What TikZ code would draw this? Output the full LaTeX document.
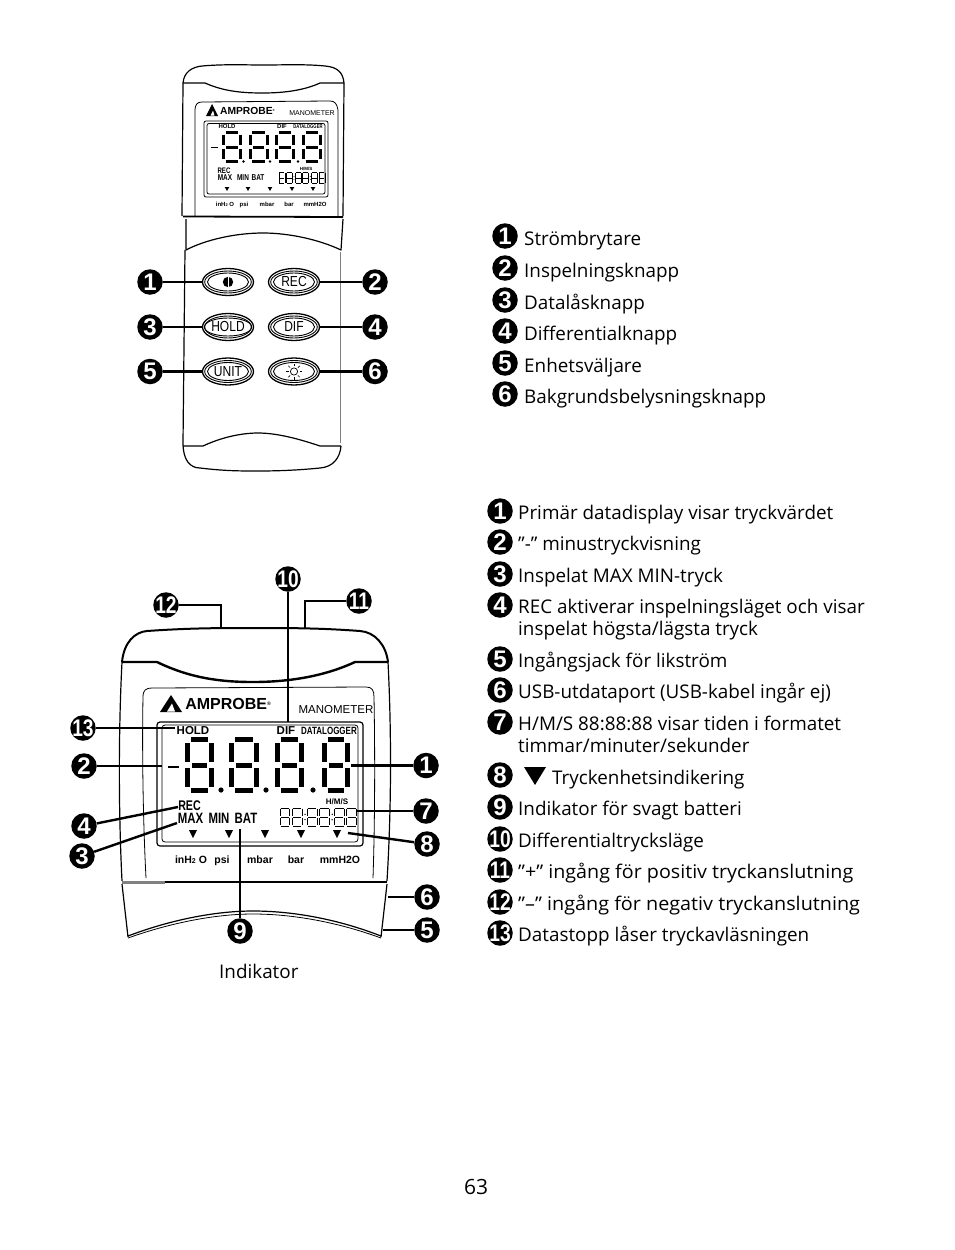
\documentclass[tikz,border=0pt]{standalone}
\usepackage{graphicx}
\usepackage{fontspec}
\setmainfont{Open Sans}
\newfontfamily\devfont{Liberation Sans}
\newfontfamily\numfont{Liberation Sans Bold}
\usetikzlibrary{shapes.geometric}
\newcommand{\segd}[5]{%
  \draw[line width=#5,line cap=butt,line join=round]
    (#1+#5*.7,#2) -- (#1+#3-#5*.7,#2)
    (#1+#5*.7,#2+#4) -- (#1+#3-#5*.7,#2+#4)
    (#1+#5*.9,#2+#4/2) -- (#1+#3-#5*.9,#2+#4/2)
    (#1,#2+#5*.7) -- (#1,#2+#4/2-#5*.6)
    (#1+#3,#2+#5*.7) -- (#1+#3,#2+#4/2-#5*.6)
    (#1,#2+#4/2+#5*.6) -- (#1,#2+#4-#5*.7)
    (#1+#3,#2+#4/2+#5*.6) -- (#1+#3,#2+#4-#5*.7);}
\newcommand{\clockd}[5]{% x y scale height lw
  \foreach \dd in {0,12.2,27.2,39.4,54.4,66.6}{\segd{#1+#3*\dd}{#2}{#3*9.8}{#4}{#5}}
  \foreach \dd in {25,52.2}{\fill (#1+#3*\dd,#2+#4*.35) circle[radius=#5*.75] (#1+#3*\dd,#2+#4*.65) circle[radius=#5*.75];}}
\newcommand{\twod}[1]{\makebox[14pt][c]{\scalebox{.8}[1]{#1}}}
\newcommand{\btxt}[1]{\scalebox{.83}[1]{#1}}
\tikzset{
  x=1pt,y=-1pt,
  outline/.style={line width=1.2pt,line join=round},
  heavy/.style={line width=2pt,line join=round},
  thin outline/.style={line width=.8pt,line join=round},
  leader/.style={line width=2.4pt},
  num/.style={circle,fill=black,text=white,inner sep=0,minimum size=25.5pt,font=\numfont\fontsize{24}{24}\selectfont},
  numtwo/.style={num},
  legend/.style={anchor=base west,inner sep=0,font=\fontsize{18.85}{22}\selectfont},
  btn/.style={ellipse,draw,line width=1.3pt,inner sep=0,minimum width=51pt,minimum height=27pt},
  btnin/.style={ellipse,draw,line width=.9pt,inner sep=0,minimum width=41pt,minimum height=18pt,font=\devfont\fontsize{14.5}{14.5}\selectfont},
  dev/.style={inner sep=0,font=\devfont\bfseries\fontsize{#1}{#1}\selectfont},
  devn/.style={inner sep=0,xscale=.76,font=\devfont\bfseries\fontsize{#1}{#1}\selectfont},
  devb/.style={dev=#1,anchor=base},
  reg/.style={inner sep=0,font=\devfont\fontsize{#1}{#1}\selectfont},
}
\begin{document}
\begin{tikzpicture}
\useasboundingbox (0,0) rectangle (954,1250);
\fill[white] (0,0) rectangle (954,1250);
%% ---------- upper device
\draw[outline] (183,83) .. controls (184,72) and (192,67) .. (202,66) .. controls (225,64) and (245,65) .. (263,65) .. controls (285,65) and (305,64) .. (325,66) .. controls (337,67) and (343,72) .. (344,83);
\draw[outline] (183,83) -- (205,83) .. controls (225,92) and (245,93) .. (263,93) .. controls (285,93) and (305,90) .. (320,83) -- (344,83);
\draw[outline] (183,83) -- (182,216);
\draw[outline] (344,83) -- (343,216);
\draw[line width=1.8pt] (183,216.5) -- (343,217);
\draw[outline] (186,219) -- (186,250) .. controls (205,240) and (235,233) .. (263,233) .. controls (290,233) and (320,240) .. (341,250) -- (343,219);
\draw[outline] (185,250) -- (183,443) .. controls (183,460) and (190,468) .. (200,468) .. controls (225,471) and (240,471) .. (258,471) .. controls (280,471) and (300,470) .. (320,468) .. controls (333,467) and (340,458) .. (341,446);
\draw[line width=.7pt,gray] (340,252) -- (340,443);
\draw[outline] (183,446) -- (203,446) .. controls (220,438) and (240,433) .. (258,433) .. controls (280,433) and (305,441) .. (320,446) -- (341,446);
\draw[thin outline] (195,216) -- (195,110) .. controls (195,105) and (197,102) .. (202,102) -- (330,101) .. controls (335,101) and (337,104) .. (338,110) -- (338,216);
\draw[thin outline,rounded corners=2pt] (204,121) rectangle (328,197);
\draw[thin outline,rounded corners=2pt] (207,123.5) rectangle (325,194);
\fill (206,116) -- (212,104) -- (218,116) -- cycle;
\fill[white] (210.5,115.7) -- (213,110.5) -- (214.5,115.7) -- cycle;
\node[dev=10.3] (logoA) at (247.5,110.8) {AMPROBE\raisebox{.5ex}{\fontsize{3}{3}\selectfont ®}};
\node[reg=7] (manA) at (312,113.5) {MANOMETER};
\node[dev=6] (holdA) at (227,126.5) {HOLD};
\node[dev=6] (difA) at (282,126.5) {DIF};
\node[devn=5.5] (dlA) at (308,126.5) {DATALOGGER};
\segd{223.5}{132.5}{17}{29}{3}
\segd{250}{132.5}{17}{29}{3}
\segd{276.5}{132.5}{17}{29}{3}
\segd{303.5}{132.5}{17}{29}{3}
\fill (243.5,161.5) circle[radius=1.4] (270,161.5) circle[radius=1.4] (298,161.5) circle[radius=1.4];
\draw[line width=.8pt] (211,147) -- (218,147);
\node[devn=8] (recA) at (224,170.5) {REC};
\node[devn=8.5] (maxA) at (225,178) {MAX};
\node[devn=8.5] (minA) at (243,178) {MIN};
\node[devn=8.5] (batA) at (258,178) {BAT};
\node[dev=4.5] (hmsA) at (306,169) {H/M/S};
\clockd{279}{172.5}{.6}{11}{.65}
\foreach \xx in {227,248,270,292,313}{\fill (\xx-2.3,187) -- (\xx+2.3,187) -- (\xx,191) -- cycle;}
\node[devb=6] (uA1) at (225,206) {inH\raisebox{0pt}{\fontsize{4}{4}\selectfont 2} O};
\node[devb=6] (uA2) at (244,206) {psi};
\node[devb=6] (uA3) at (267,206) {mbar};
\node[devb=6] (uA4) at (289,206) {bar};
\node[devb=6] (uA5) at (315,206) {mmH2O};
%% buttons
\node[btn] (b1) at (228,282) {}; \node[btnin] (b1i) at (228,282) {};
\node[btn] (b2) at (294,282) {}; \node[btnin] (b2i) at (294,282) {\btxt{REC}};
\node[btn] (b3) at (228,327) {}; \node[btnin] (b3i) at (228,327) {\btxt{HOLD}};
\node[btn] (b4) at (294,327) {}; \node[btnin] (b4i) at (294,327) {\btxt{DIF}};
\node[btn] (b5) at (228,371.5) {}; \node[btnin] (b5i) at (228,371.5) {\btxt{UNIT}};
\node[btn] (b6) at (294,371.5) {}; \node[btnin] (b6i) at (294,371.5) {};
\foreach \bb in {1,...,6}{\draw[line width=.9pt] (b\bb.center) ellipse[x radius=23.3,y radius=11];}
\fill (228,282) circle[radius=5.2];
\draw[white,line width=.6pt] (228,277) -- (228,287);
\draw[line width=.7pt] (294,371.5) circle[radius=3.6];
\foreach \aa in {0,45,...,315}{\draw[line width=.7pt] (294,371.5) ++(\aa:5.5) -- ++(\aa:2.5);}
\node[num] (u1) at (150,282) {1};
\node[num] (u2) at (375,282) {2};
\node[num] (u3) at (150,327) {3};
\node[num] (u4) at (375,327) {4};
\node[num] (u5) at (150,371.5) {5};
\node[num] (u6) at (375,371.5) {6};
\draw[leader] (u1) -- (b1);
\draw[leader] (u2) -- (b2);
\draw[leader] (u3) -- (b3);
\draw[leader] (u4) -- (b4);
\draw[leader] (u5) -- (b5);
\draw[leader] (u6) -- (b6);
%% ---------- upper legend
\node[num] (la1) at (505,236) {1}; \node[legend] (ta1) at (524,245) {Strömbrytare};
\node[num] (la2) at (505,268) {2}; \node[legend] (ta2) at (524,277) {Inspelningsknapp};
\node[num] (la3) at (505,300) {3}; \node[legend] (ta3) at (524,309) {Datalåsknapp};
\node[num] (la4) at (505,331) {4}; \node[legend] (ta4) at (524,340) {Differentialknapp};
\node[num] (la5) at (505,363) {5}; \node[legend] (ta5) at (524,372) {Enhetsväljare};
\node[num] (la6) at (505,394) {6}; \node[legend] (ta6) at (524,403) {Bakgrundsbelysningsknapp};
%% ---------- lower device
\draw[heavy] (122,662) .. controls (124,642) and (135,632) .. (147,631) .. controls (190,628) and (220,628) .. (253,628) .. controls (290,628) and (320,628) .. (360,631) .. controls (375,632) and (386,645) .. (388,662);
\draw[line width=2.4pt] (122,662) -- (157,662) .. controls (190,678) and (220,682) .. (253,682) .. controls (290,682) and (325,676) .. (355,662) -- (388,662);
\draw[outline] (122,662) .. controls (119,720) and (118,800) .. (122,881);
\draw[outline] (388,662) .. controls (391,720) and (392,800) .. (387,881);
\draw[line width=3pt,gray] (122,882) -- (165,882);
\draw[line width=2pt] (165,882) -- (387,882);
\draw[outline] (122,884) -- (128,937);
\draw[outline] (387,884) -- (381,937);
\draw[outline] (128,936) .. controls (170,920) and (215,911) .. (253,911) .. controls (295,911) and (340,920) .. (381,936);
\draw[thin outline] (128,938) .. controls (170,923) and (215,914) .. (253,914) .. controls (295,914) and (340,923) .. (381,938);
\draw[thin outline] (146,878) .. controls (143,820) and (142,750) .. (143,697) .. controls (143,690) and (146,688) .. (152,688) -- (366,687) .. controls (372,687) and (374,690) .. (374,697) .. controls (375,750) and (375,820) .. (373,878);
\draw[outline,rounded corners=3pt] (157,722) rectangle (363,846);
\draw[thin outline,rounded corners=3pt] (162,725) rectangle (358,842);
\fill (160,712) -- (171,695) -- (182,712) -- cycle;
\fill[white] (167,711.5) -- (172,703.5) -- (175,711.5) -- cycle;
\node[dev=16] (logoB) at (228,704) {AMPROBE\raisebox{.5ex}{\fontsize{5}{5}\selectfont ®}};
\node[reg=11.5] (manB) at (336,710) {MANOMETER};
\node[dev=11.5] (holdB) at (193,731) {HOLD};
\node[dev=11.5] (difB) at (286,731) {DIF};
\node[devn=10.5] (dlB) at (329,731) {DATALOGGER};
\segd{187.5}{739.5}{24}{51}{5}
\segd{231}{739.5}{25}{51}{5}
\segd{277.5}{739.5}{24}{51}{5}
\segd{324}{739.5}{23.5}{51}{5}
\fill (221,790) circle[radius=2.6] (266,790) circle[radius=2.6] (313,790) circle[radius=2.6];
\draw[line width=2.2pt] (168,767) -- (179,767);
\node[devn=14] (recB) at (189.5,805.5) {REC};
\node[devn=15] (maxB) at (190.5,818.8) {MAX};
\node[devn=15] (minB) at (219,818.8) {MIN};
\node[devn=15] (batB) at (246,818.8) {BAT};
\node[dev=8] (hmsB) at (337,802) {H/M/S};
\clockd{280}{808}{1}{18}{1}
\foreach \xx in {193,229,265,301,337}{\fill (\xx-4,830) -- (\xx+4,830) -- (\xx,838) -- cycle;}
\node[devb=10.5] (uB1) at (191,863) {inH\raisebox{0pt}{\fontsize{7}{7}\selectfont 2} O};
\node[devb=10.5] (uB2) at (222,863) {psi};
\node[devb=10.5] (uB3) at (260,863) {mbar};
\node[devb=10.5] (uB4) at (296,863) {bar};
\node[devb=10.5] (uB5) at (340,863) {mmH2O};
%% lower callouts
\node[num] (d1) at (426,765.5) {1};
\node[num] (d2) at (84,766) {2};
\node[num] (d3) at (82,856) {3};
\node[num] (d4) at (84,826) {4};
\node[num] (d5) at (427,930) {5};
\node[num] (d6) at (427,897) {6};
\node[num] (d7) at (426,811) {7};
\node[num] (d8) at (427,844) {8};
\node[num] (d9) at (240,931) {9};
\node[numtwo] (d10) at (288,579) {\twod{10}};
\node[numtwo] (d11) at (359,601) {\twod{11}};
\node[numtwo] (d12) at (166,605) {\twod{12}};
\node[numtwo] (d13) at (83,728) {\twod{13}};
\coordinate (e1) at (351,765.5);
\coordinate (e2) at (162,766);
\coordinate (e3) at (177,823);
\coordinate (e4) at (178,807);
\coordinate (e5) at (383,930);
\coordinate (e6) at (388,897);
\coordinate (e7) at (357,811);
\coordinate (e8) at (348,833);
\coordinate (e9) at (240,829);
\coordinate (e10) at (288,722);
\coordinate (e11) at (305,628);
\coordinate (e12) at (221,628);
\coordinate (e13) at (175,728);
\draw[leader] (d1) -- (e1);
\draw[leader] (d2) -- (e2);
\draw[leader] (d3) -- (e3);
\draw[leader] (d4) -- (e4);
\draw[leader] (d5) -- (e5);
\draw[leader] (d6) -- (e6);
\draw[leader] (d7) -- (e7);
\draw[leader] (d8) -- (e8);
\draw[leader] (d9) -- (e9);
\draw[leader] (d10) -- (e10);
\draw[leader] (d11) -| (e11);
\draw[leader] (d12) -| (e12);
\draw[leader] (d13) -- (e13);
\node[legend] (ind) at (219,978) {Indikator};
%% ---------- lower legend
\node[num] (lb1) at (500,511) {1}; \node[legend] (tb1) at (518,519) {Primär datadisplay visar tryckvärdet};
\node[num] (lb2) at (500,542) {2}; \node[legend] (tb2) at (518,550) {”-” minustryckvisning};
\node[num] (lb3) at (500,574) {3}; \node[legend] (tb3) at (518,582) {Inspelat MAX MIN-tryck};
\node[num] (lb4) at (500,605) {4}; \node[legend] (tb4) at (518,613) {REC aktiverar inspelningsläget och visar};
\node[legend] (tb4b) at (518,635) {inspelat högsta/lägsta tryck};
\node[num] (lb5) at (500,659) {5}; \node[legend] (tb5) at (518,667) {Ingångsjack för likström};
\node[num] (lb6) at (500,690) {6}; \node[legend] (tb6) at (518,698) {USB-utdataport (USB-kabel ingår ej)};
\node[num] (lb7) at (500,722) {7}; \node[legend] (tb7) at (518,730) {H/M/S 88:88:88 visar tiden i formatet};
\node[legend] (tb7b) at (518,752) {timmar/minuter/sekunder};
\node[num] (lb8) at (500,775) {8};
\fill (524,767) -- (546,767) -- (535,785) -- cycle;
\node[legend] (tb8) at (552,784) {Tryckenhetsindikering};
\node[num] (lb9) at (500,807) {9}; \node[legend] (tb9) at (518,815) {Indikator för svagt batteri};
\node[numtwo] (lb10) at (500,839) {\twod{10}}; \node[legend] (tb10) at (518,847) {Differentialtrycksläge};
\node[numtwo] (lb11) at (500,870) {\twod{11}}; \node[legend,xscale=1.045] (tb11) at (518,878) {”+” ingång för positiv tryckanslutning};
\node[numtwo] (lb12) at (500,902) {\twod{12}}; \node[legend,xscale=1.05] (tb12) at (518,910) {”–” ingång för negativ tryckanslutning};
\node[numtwo] (lb13) at (500,933) {\twod{13}}; \node[legend] (tb13) at (518,941) {Datastopp låser tryckavläsningen};
\node[legend,font=\fontsize{21}{21}\selectfont] (pg) at (464,1194) {63};
\end{tikzpicture}
\end{document}
